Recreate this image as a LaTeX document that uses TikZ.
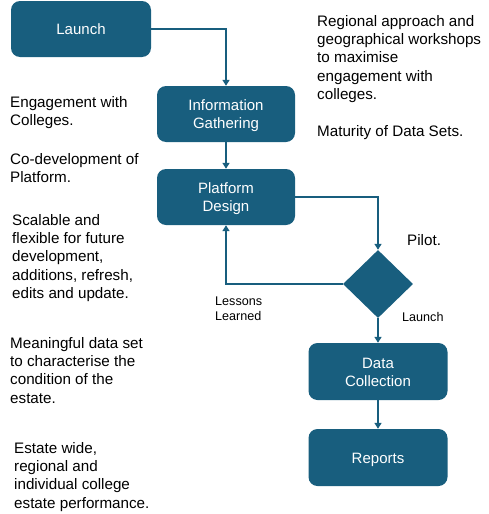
\documentclass[tikz,border=0pt]{standalone}
\usepackage{fontspec}
\setmainfont{Liberation Sans}
\usetikzlibrary{arrows.meta,shapes.geometric}
\definecolor{boxblue}{RGB}{24,94,126}
\newcommand\boxtext[1]{\raisebox{-2pt}[\height][\depth]{\begin{tabular}{@{}c@{}}#1\end{tabular}}}
\begin{document}
\begin{tikzpicture}[x=1pt,y=-1pt,
  box/.style={draw=none, fill=boxblue, rounded corners=9pt, text=white, align=center,
    font=\fontsize{15}{18}\selectfont, minimum width=139pt, minimum height=56pt, inner sep=0pt},
  note/.style={anchor=north west, align=left, inner sep=0pt, text=black,
    font=\fontsize{15.2}{18.3}\selectfont},
  small/.style={anchor=north west, align=left, inner sep=0pt, text=black,
    font=\fontsize{12.6}{15}\selectfont},
  arr/.style={draw=boxblue, line width=1.7pt, -{Triangle[width=7pt,length=6pt]}}]
\useasboundingbox (0,0) rectangle (489,514);

% boxes
\node[box, minimum width=140pt] (launch) at (81,29) {\boxtext{Launch}};
\node[box, minimum width=138pt] (info) at (226,114) {\boxtext{Information\\Gathering}};
\node[box, minimum width=138pt] (plat) at (226,197) {\boxtext{Platform\\Design}};
\node[diamond, fill=boxblue, minimum width=70pt, minimum height=68pt, inner sep=0pt] (dec) at (378,284) {};
\node[box, minimum height=57pt] (dc) at (378,371.5) {\boxtext{Data\\Collection}};
\node[box, minimum height=57pt] (rep) at (378,457.5) {\boxtext{Reports}};

% connectors
\draw[arr] (launch.east) -| (info.north);
\draw[arr] (info) -- (plat);
\draw[arr] (plat.east) -| (dec.north);
\draw[arr] (dec.west) -| (plat.south);
\draw[arr] (dec) -- (dc);
\draw[arr] (dc) -- (rep);

% labels
\node[note] (pilot) at (407,234) {Pilot.};
\node[small] (lessons) at (215,297) {Lessons\\Learned};
\node[small] (launchlbl) at (402,312) {Launch};

% notes
\node[note] (n1) at (317,15) {Regional approach and\\geographical workshops\\to maximise\\engagement with\\colleges.\\[18.3pt]Maturity of Data Sets.};
\node[note] (n2) at (10,96) {Engagement with\\Colleges.};
\node[note] (n3) at (10,153) {Co-development of\\Platform.};
\node[note] (n4) at (12,214) {Scalable and\\flexible for future\\development,\\additions, refresh,\\edits and update.};
\node[note] (n5) at (10,337) {Meaningful data set\\to characterise the\\condition of the\\estate.};
\node[note] (n6) at (14,442) {Estate wide,\\regional and\\individual college\\estate performance.};
\end{tikzpicture}
\end{document}
